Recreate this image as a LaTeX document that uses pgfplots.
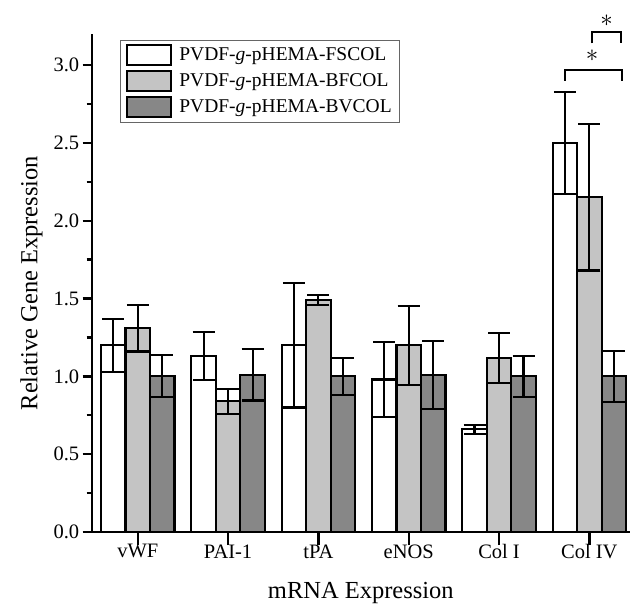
\documentclass[border=0pt]{standalone}
\usepackage{fontspec}
\setmainfont{Liberation Serif}
\usepackage{pgfplots}
\usepackage{pgfplotstable}
\pgfplotsset{compat=1.18}
\definecolor{lightbar}{gray}{0.77}
\definecolor{darkbar}{gray}{0.53}

\pgfplotstableread{
x y e
0 1.20 0.17
1 1.13 0.155
2 1.20 0.40
3 0.98 0.24
4 0.66 0.03
5 2.50 0.33
}\fscol
\pgfplotstableread{
x y e
0 1.31 0.15
1 0.84 0.08
2 1.49 0.03
3 1.20 0.255
4 1.12 0.16
5 2.15 0.47
}\bfcol
\pgfplotstableread{
x y e
0 1.00 0.135
1 1.01 0.165
2 1.00 0.12
3 1.01 0.22
4 1.00 0.13
5 1.00 0.165
}\bvcol

\begin{document}
\begin{tikzpicture}
\begin{axis}[
  name=ax,
  width=538.3pt, height=498pt, scale only axis,
  xmin=-0.51, xmax=5.45, ymin=0, ymax=3.2,
  clip=false,
  ybar=0pt, bar width=24.5pt,
  axis x line*=bottom, axis y line*=left,
  axis line style={line width=2.4pt, black},
  xtick={0,1,2,3,4,5},
  xticklabels={vWF,PAI-1,tPA,eNOS,Col I,Col IV},
  ytick={0,0.5,1.0,1.5,2.0,2.5,3.0},
  minor ytick={0.25,0.75,1.25,1.75,2.25,2.75},
  tick align=outside,
  major tick length=9pt, minor tick length=5pt,
  tick style={line width=2.4pt, black},
  x tick style={/pgfplots/major tick length=13pt},
  yticklabel style={/pgf/number format/.cd, fixed, fixed zerofill, precision=1},
  /pgf/number format/assume math mode=true,
  tick label style={font=\fontsize{20.5}{22}\selectfont},
  xlabel={mRNA Expression},
  ylabel={Relative Gene Expression},
  label style={font=\fontsize{24.5}{26}\selectfont},
  xlabel style={yshift=-16pt},
  ylabel style={yshift=4pt},
  legend style={at={(0.0526,0.988)}, anchor=north west, draw=black!60, line width=0.7pt,
    font=\fontsize{19.5}{21}\selectfont, row sep=4pt, inner xsep=6pt, inner ysep=4pt,
    cells={anchor=west}},
  every axis plot/.append style={draw=black, line width=2.1pt,
    error bars/y dir=both, error bars/y explicit, error bars/error mark=|,
    error bars/error bar style={line width=2.1pt, black},
    error bars/error mark options={mark size=11pt, line width=2.1pt, black}},
]
\addplot[fill=white,
  legend image code/.code={\draw[fill=white,draw=black,line width=1.9pt] (0pt,-10pt) rectangle (44pt,10pt); \path (49pt,0pt);}]
  table[x=x, y=y, y error=e] {\fscol};
\addlegendentry{PVDF-\textit{g}-pHEMA-FSCOL}
\addplot[fill=lightbar,
  legend image code/.code={\draw[fill=lightbar,draw=black,line width=1.9pt] (0pt,-10pt) rectangle (44pt,10pt); \path (49pt,0pt);}]
  table[x=x, y=y, y error=e] {\bfcol};
\addlegendentry{PVDF-\textit{g}-pHEMA-BFCOL}
\addplot[fill=darkbar,
  legend image code/.code={\draw[fill=darkbar,draw=black,line width=1.9pt] (0pt,-10pt) rectangle (44pt,10pt); \path (49pt,0pt);}]
  table[x=x, y=y, y error=e] {\bvcol};
\addlegendentry{PVDF-\textit{g}-pHEMA-BVCOL}

\draw[line width=2pt] (axis cs:4.727,2.90) -- (axis cs:4.727,2.97) -- (axis cs:5.36,2.97) -- (axis cs:5.36,2.90);
\draw[line width=2pt] (axis cs:5.03,3.14) -- (axis cs:5.03,3.21) -- (axis cs:5.35,3.21) -- (axis cs:5.35,3.14);
\node[font=\fontsize{30}{30}\selectfont, inner sep=0pt] at (axis cs:5.03,3.06) {$\ast$};
\node[font=\fontsize{30}{30}\selectfont, inner sep=0pt] at (axis cs:5.19,3.285) {$\ast$};
\end{axis}
\pgfresetboundingbox
\path[use as bounding box] ([xshift=-91.7pt,yshift=-74pt]ax.south west) rectangle ([yshift=34pt]ax.north east);
\end{tikzpicture}
\end{document}
